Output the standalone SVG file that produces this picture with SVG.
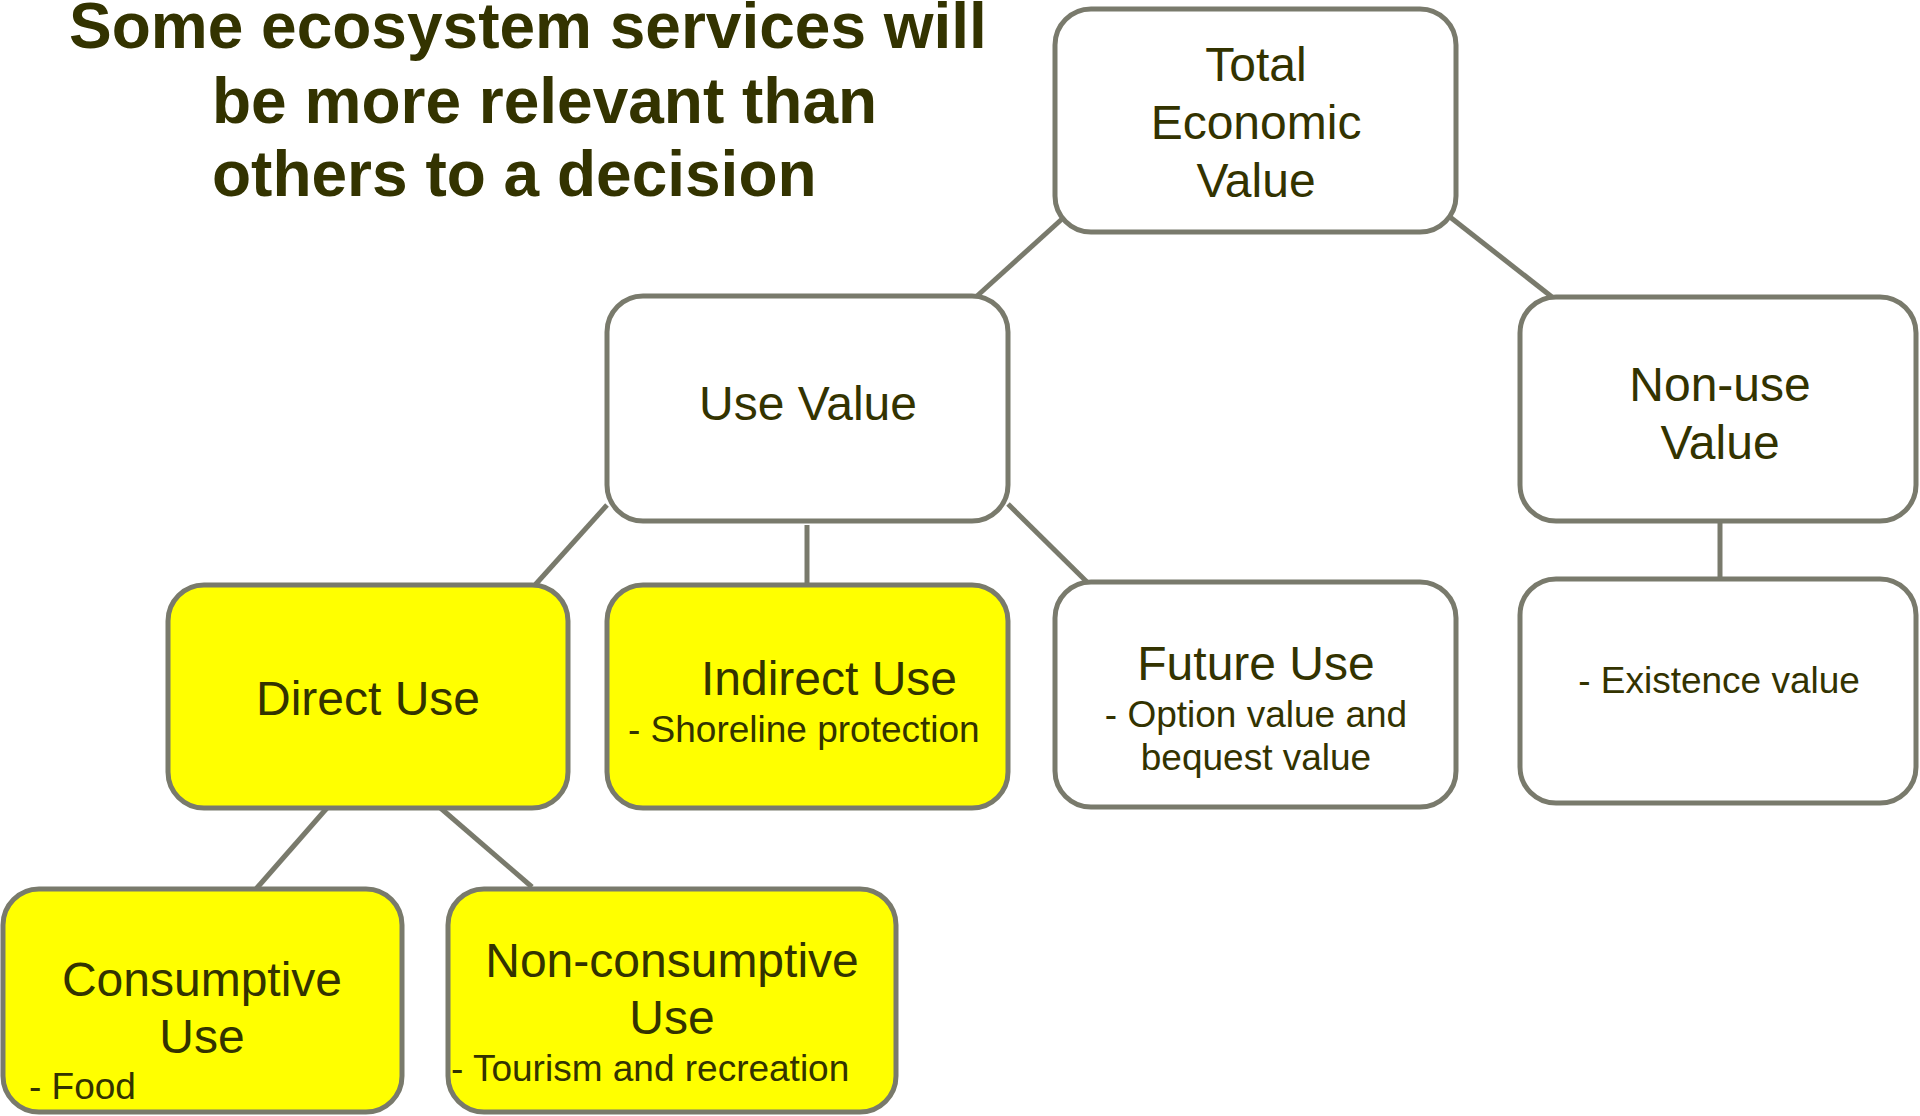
<svg xmlns="http://www.w3.org/2000/svg" width="1920" height="1116" viewBox="0 0 1920 1116">
  <style>
    .box { stroke: #797a6c; stroke-width: 5; }
    .plain { fill: #ffffff; }
    .hl { fill: #ffff00; }
    .edge { stroke: #797a6c; stroke-width: 5; fill: none; }
    text { font-family: "Liberation Sans", Arial, sans-serif; fill: #333300; }
    .title { font-size: 64px; font-weight: bold; }
    .big { font-size: 48px; text-anchor: middle; }
    .small { font-size: 37px; }
    .mid { text-anchor: middle; }
  </style>
  <rect width="1920" height="1116" fill="#ffffff"/>

  <!-- heading -->
  <g id="heading">
    <text class="title" x="69" y="48">Some ecosystem services will</text>
    <text class="title" x="212" y="123">be more relevant than</text>
    <text class="title" x="212" y="196">others to a decision</text>
  </g>

  <!-- tree links -->
  <g id="connectors">
    <line class="edge" x1="1062" y1="219" x2="977" y2="296"/>
    <line class="edge" x1="1450" y1="217" x2="1552" y2="297"/>
    <line class="edge" x1="607" y1="505" x2="535" y2="585"/>
    <line class="edge" x1="807" y1="525" x2="807" y2="585"/>
    <line class="edge" x1="1008" y1="504" x2="1087" y2="582"/>
    <line class="edge" x1="1720" y1="521" x2="1720" y2="579"/>
    <line class="edge" x1="327" y1="808" x2="256" y2="889"/>
    <line class="edge" x1="437" y1="805" x2="532" y2="887"/>
  </g>

  <g id="total-economic-value">
    <rect class="box plain" x="1055" y="9" width="401" height="223" rx="36"/>
    <text class="big" x="1256" y="81">Total</text>
    <text class="big" x="1256" y="139">Economic</text>
    <text class="big" x="1256" y="197">Value</text>
  </g>

  <g id="use-value">
    <rect class="box plain" x="607" y="296" width="401" height="225" rx="36"/>
    <text class="big" x="808" y="420">Use Value</text>
  </g>

  <g id="non-use-value">
    <rect class="box plain" x="1520" y="297" width="396" height="224" rx="36"/>
    <text class="big" x="1720" y="401">Non-use</text>
    <text class="big" x="1720" y="459">Value</text>
  </g>

  <g id="direct-use">
    <rect class="box hl" x="168" y="585" width="400" height="223" rx="36"/>
    <text class="big" x="368" y="715">Direct Use</text>
  </g>

  <g id="indirect-use">
    <rect class="box hl" x="607" y="585" width="401" height="223" rx="36"/>
    <text class="big" x="829" y="695">Indirect Use</text>
    <text class="small" x="628" y="742">- Shoreline protection</text>
  </g>

  <g id="future-use">
    <rect class="box plain" x="1055" y="582" width="401" height="225" rx="36"/>
    <text class="big" x="1256" y="680">Future Use</text>
    <text class="small mid" x="1256" y="727">- Option value and</text>
    <text class="small mid" x="1256" y="770">bequest value</text>
  </g>

  <g id="existence-value">
    <rect class="box plain" x="1520" y="579" width="396" height="224" rx="36"/>
    <text class="small mid" x="1719" y="693">- Existence value</text>
  </g>

  <g id="consumptive-use">
    <rect class="box hl" x="3" y="889" width="399" height="223" rx="36"/>
    <text class="big" x="202" y="996">Consumptive</text>
    <text class="big" x="202" y="1053">Use</text>
    <text class="small" x="29" y="1099">- Food</text>
  </g>

  <g id="non-consumptive-use">
    <rect class="box hl" x="448" y="889" width="448" height="223" rx="36"/>
    <text class="big" x="672" y="977">Non-consumptive</text>
    <text class="big" x="672" y="1034">Use</text>
    <text class="small" x="451" y="1081">- Tourism and recreation</text>
  </g>
</svg>
